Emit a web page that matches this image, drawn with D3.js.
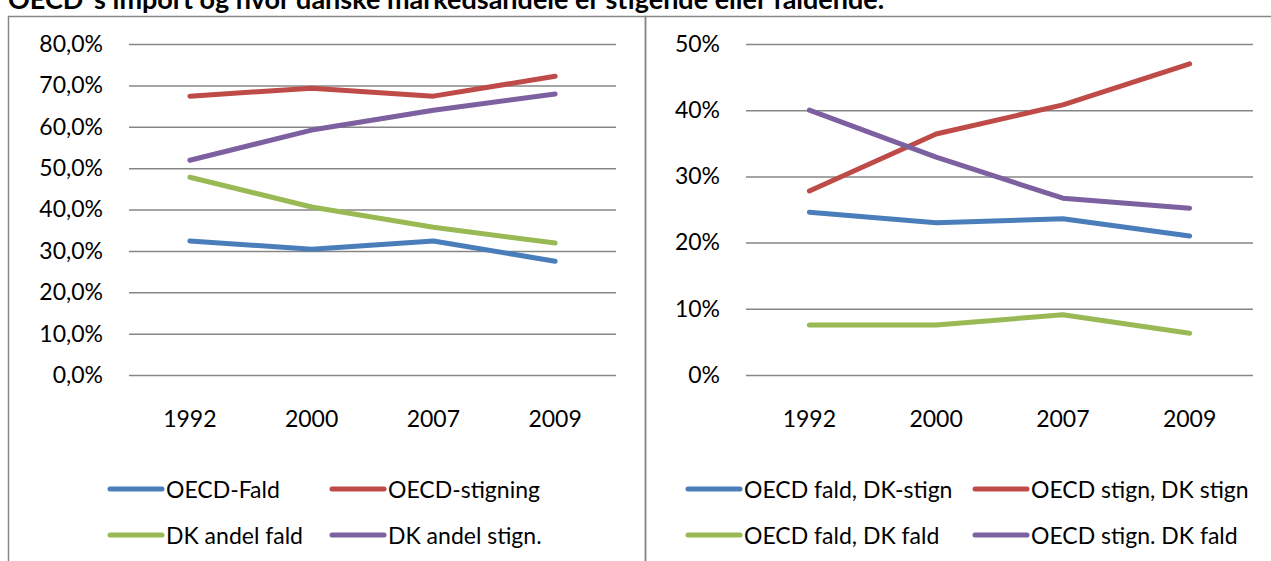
<!DOCTYPE html>
<html><head><meta charset="utf-8">
<script src="https://cdn.jsdelivr.net/npm/d3@7"></script>
<style>
html,body{margin:0;padding:0;background:#fff;overflow:hidden}
svg{display:block}
text{font-family:Lato,"Open Sans",sans-serif;fill:#000}
</style></head>
<body>
<svg id="c" width="1271" height="561"></svg>
<script>
const title = "OECD´s import og hvor danske markedsandele er stigende eller faldende.";
const years = ["1992", "2000", "2007", "2009"];

// Left chart
const leftNames = ["OECD-Fald", "OECD-stigning", "DK andel fald", "DK andel stign."];
const leftFald = [0.324, 0.304, 0.324, 0.275];
const leftStigning = [0.674, 0.693, 0.674, 0.722];
const leftDkFald = [0.478, 0.406, 0.357, 0.319];
const leftDkStign = [0.519, 0.592, 0.640, 0.679];
const leftTicks = [0, 0.1, 0.2, 0.3, 0.4, 0.5, 0.6, 0.7, 0.8];

// Right chart
const rightNames = ["OECD fald, DK-stign", "OECD stign, DK stign", "OECD fald, DK fald", "OECD stign. DK fald"];
const rightFaldStign = [0.246, 0.230, 0.236, 0.210];
const rightStignStign = [0.278, 0.364, 0.408, 0.470];
const rightFaldFald = [0.0755, 0.0755, 0.091, 0.063];
const rightStignFald = [0.400, 0.329, 0.267, 0.252];
const rightTicks = [0, 0.1, 0.2, 0.3, 0.4, 0.5];

const colors = ["#4a7ebb", "#be4b48", "#98b954", "#7d60a0"];
const FS = 23;

const svg = d3.select("#c");
svg.append("text").attr("x", 8).attr("y", 9).attr("font-size", 27).attr("font-weight", "bold").text(title);

// frames
svg.append("rect").attr("x", 8.5).attr("y", 16.5).attr("width", 637).attr("height", 600)
  .attr("fill", "none").attr("stroke", "#868686").attr("stroke-width", 1.5);
svg.append("rect").attr("x", 645.5).attr("y", 16.5).attr("width", 700).attr("height", 600)
  .attr("fill", "none").attr("stroke", "#868686").attr("stroke-width", 1.5);

function chart(cfg) {
  const x = d3.scaleBand().domain(years).range([cfg.x0, cfg.x1]);
  const y = d3.scaleLinear().domain([0, cfg.max]).range([375, 44]);
  const g = svg.append("g");
  const yAxis = d3.axisLeft(y).tickValues(cfg.ticks).tickSize(-(cfg.x1 - cfg.x0)).tickPadding(26).tickFormat(cfg.fmt);
  const ya = g.append("g").attr("transform", `translate(${cfg.x0},0)`).call(yAxis);
  ya.select(".domain").remove();
  ya.selectAll(".tick line").attr("stroke", "#868686").attr("stroke-width", 1.5);
  ya.selectAll(".tick text").attr("font-size", FS).attr("font-family", "Lato").attr("fill", "#000");
  const xAxis = d3.axisBottom(x).tickSize(0).tickPadding(0);
  const xa = g.append("g").attr("transform", `translate(0,375)`).call(xAxis);
  xa.select(".domain").remove();
  xa.selectAll(".tick text").attr("font-size", FS).attr("font-family", "Lato").attr("fill", "#000").attr("dy", 0).attr("y", 52);
  const line = d3.line().x((d, i) => x(years[i]) + x.bandwidth() / 2).y(d => y(d));
  cfg.series.forEach((s, k) => {
    g.append("path").datum(s).attr("d", line).attr("fill", "none")
      .attr("stroke", colors[k]).attr("stroke-width", 5).attr("stroke-linecap", "round").attr("stroke-linejoin", "round");
  });
  // legend
  cfg.names.forEach((n, k) => {
    const col = k % 2, row = Math.floor(k / 2);
    const lx = cfg.legX[col], ly = 489 + row * 46;
    g.append("line").attr("x1", lx).attr("x2", lx + 52).attr("y1", ly).attr("y2", ly)
      .attr("stroke", colors[k]).attr("stroke-width", 5).attr("stroke-linecap", "round");
    g.append("text").attr("x", lx + 56).attr("y", ly + 8.5).attr("font-size", FS).text(n);
  });
}

chart({x0: 129, x1: 616, max: 0.8, ticks: leftTicks, fmt: d => d3.format(".1f")(d * 100).replace(".", ",") + "%",
  series: [leftFald, leftStigning, leftDkFald, leftDkStign], names: leftNames, legX: [110, 332]});
chart({x0: 746, x1: 1253, max: 0.5, ticks: rightTicks, fmt: d => Math.round(d * 100) + "%",
  series: [rightFaldStign, rightStignStign, rightFaldFald, rightStignFald], names: rightNames, legX: [688, 975]});
</script>
</body></html>
